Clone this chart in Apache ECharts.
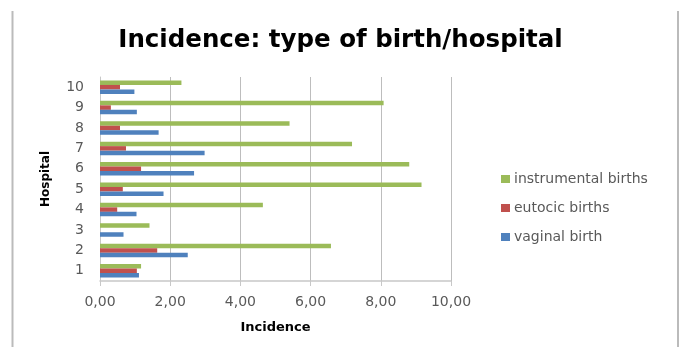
<!DOCTYPE html>
<html>
<head>
<meta charset="utf-8">
<script src="https://cdn.jsdelivr.net/npm/echarts@6/dist/echarts.min.js"></script>
<style>
  html, body { margin: 0; padding: 0; background: #fff; }
  #chart { width: 681px; height: 347px; }
</style>
</head>
<body>
<div id="chart"></div>
<script>
// Hospitals 1..10 (bottom to top)
const hospitals = ['1', '2', '3', '4', '5', '6', '7', '8', '9', '10'];
const vaginalBirth = [1.11, 2.50, 0.67, 1.04, 1.81, 2.68, 2.98, 1.67, 1.05, 0.98];
const eutocicBirths = [1.05, 1.63, 0, 0.49, 0.65, 1.17, 0.74, 0.57, 0.31, 0.57];
const instrumentalBirths = [1.17, 6.58, 1.41, 4.64, 9.16, 8.81, 7.18, 5.40, 8.08, 2.32];
const xTicks = [0, 2, 4, 6, 8, 10];

const FONT = '"DejaVu Sans", "Open Sans", sans-serif';
const chart = echarts.init(document.getElementById('chart'), null, { renderer: 'canvas' });

const fmt = v => v.toFixed(2).replace('.', ',');

function barSeries(name, data, color) {
  return {
    name: name,
    type: 'bar',
    data: data,
    barWidth: 4.5,
    barGap: '0%',
    itemStyle: { color: color },
    emphasis: { disabled: true }
  };
}

chart.setOption({
  animation: false,
  backgroundColor: '#fff',
  title: {
    text: 'Incidence: type of birth/hospital',
    left: 'center',
    top: 23,
    textStyle: { fontFamily: FONT, fontSize: 24.5, fontWeight: 'bold', color: '#000' }
  },
  legend: {
    orient: 'vertical',
    left: 496,
    top: 167,
    itemWidth: 9,
    itemHeight: 8,
    itemGap: 15,
    icon: 'rect',
    data: ['instrumental births', 'eutocic births', 'vaginal birth'],
    textStyle: { fontFamily: FONT, fontSize: 14, color: '#595959', padding: [0, 0, 0, -1] }
  },
  grid: { left: 100, right: 230, top: 77, bottom: 66, containLabel: false },
  xAxis: {
    type: 'value',
    min: xTicks[0],
    max: xTicks[xTicks.length - 1],
    interval: 2,
    name: 'Incidence',
    nameLocation: 'middle',
    nameGap: 40,
    nameTextStyle: { fontFamily: FONT, fontSize: 13, fontWeight: 'bold', color: '#000' },
    axisLine: { show: true, lineStyle: { color: '#c8c8c8', width: 1.5 } },
    axisTick: { show: true, length: 5, lineStyle: { color: '#c8c8c8' } },
    splitLine: { show: true, lineStyle: { color: '#bdbdbd', width: 1 } },
    axisLabel: { formatter: fmt, fontFamily: FONT, fontSize: 14, color: '#595959', margin: 14 }
  },
  yAxis: {
    type: 'category',
    data: hospitals,
    name: 'Hospital',
    nameLocation: 'middle',
    nameGap: 48,
    nameRotate: 90,
    nameTextStyle: { fontFamily: FONT, fontSize: 12, fontWeight: 'bold', color: '#000' },
    axisLine: { show: true, lineStyle: { color: '#c8c8c8', width: 1 } },
    axisTick: { show: false },
    axisLabel: { fontFamily: FONT, fontSize: 14, color: '#595959', margin: 16 }
  },
  series: [
    barSeries('instrumental births', instrumentalBirths, '#9bbb59'),
    barSeries('eutocic births', eutocicBirths, '#c0504d'),
    barSeries('vaginal birth', vaginalBirth, '#4f81bd')
  ],
  graphic: [
    { type: 'line', shape: { x1: 12.5, y1: 11, x2: 12.5, y2: 347 }, style: { stroke: '#bbbbbb', lineWidth: 2 } },
    { type: 'line', shape: { x1: 678, y1: 11, x2: 678, y2: 347 }, style: { stroke: '#bbbbbb', lineWidth: 2 } }
  ]
});
</script>
</body>
</html>
